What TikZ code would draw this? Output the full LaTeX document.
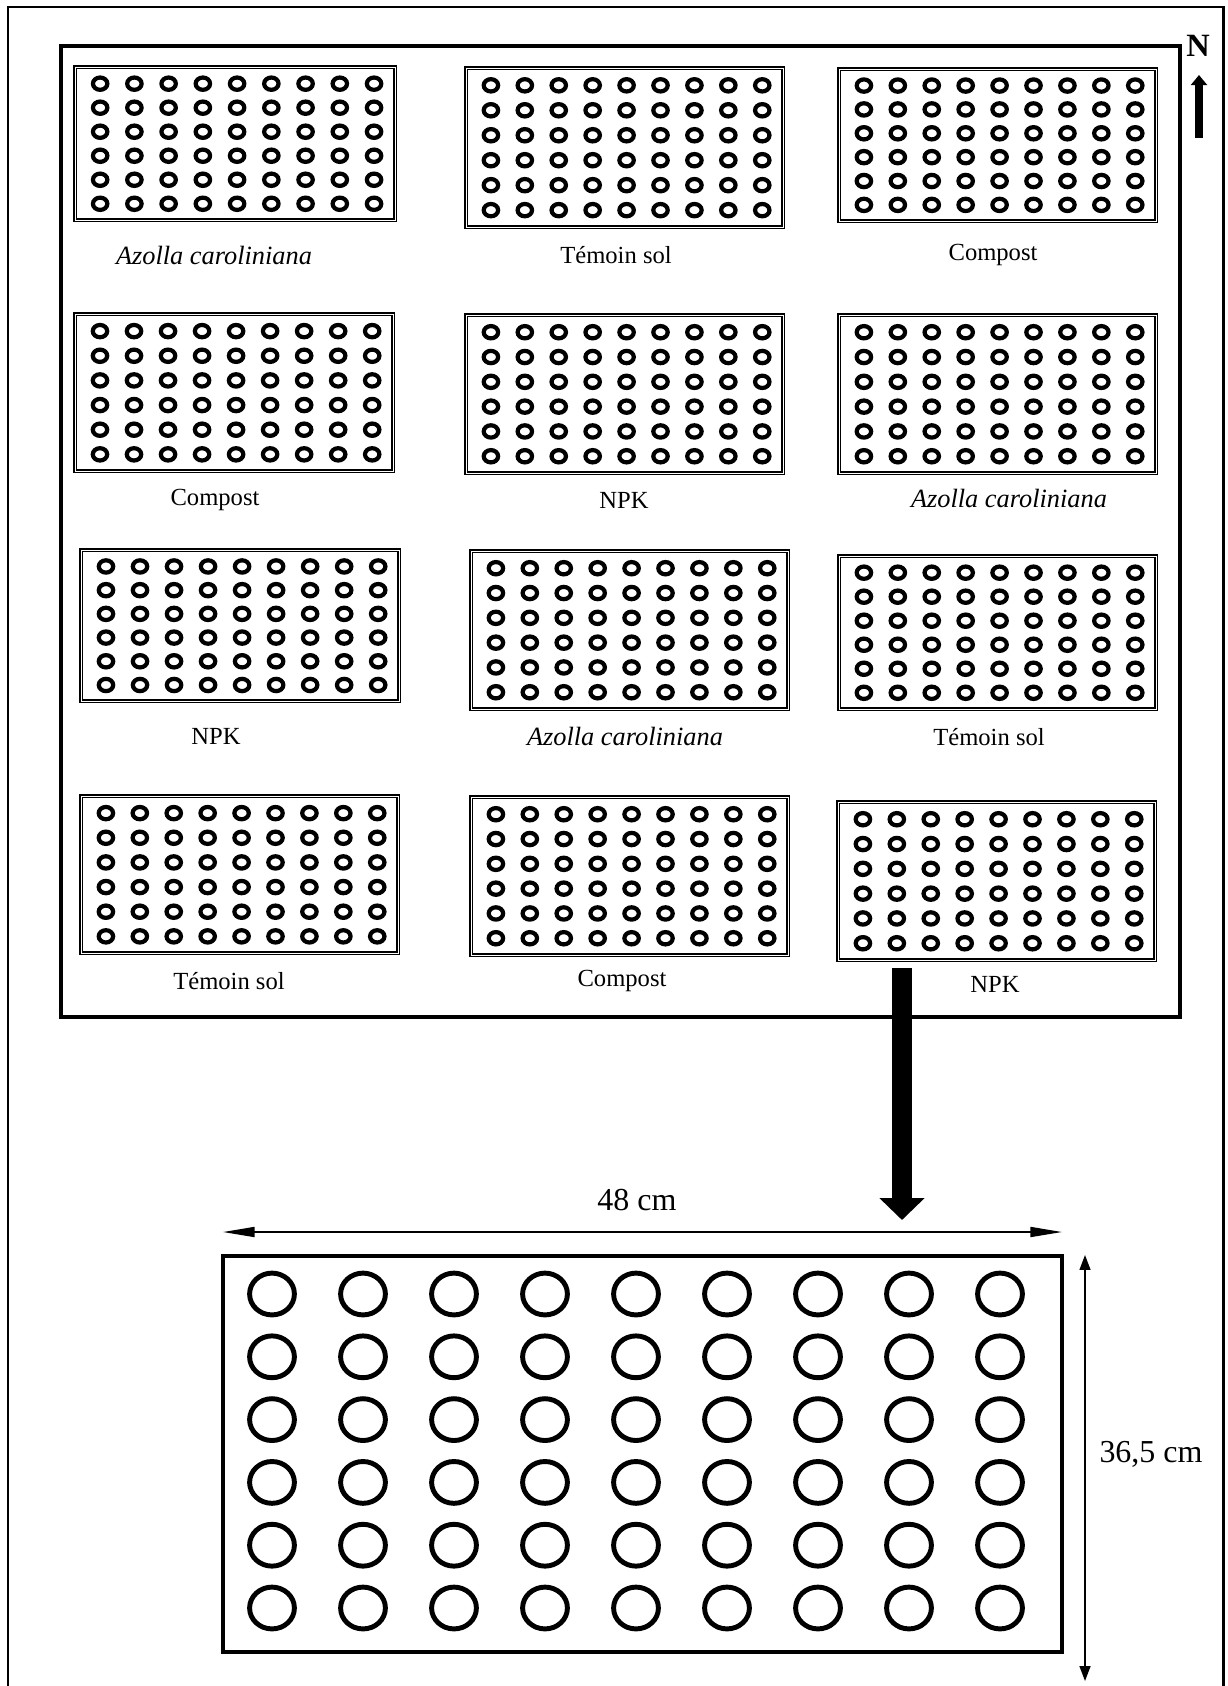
\documentclass[tikz,border=0pt]{standalone}
\usepackage{fontspec}
\setmainfont{Liberation Serif}
\usetikzlibrary{arrows.meta,positioning}

\begin{document}
\begin{tikzpicture}[x=0.02cm,y=-0.02cm,
  frame/.style={line width=1.7pt},
  field/.style={line width=2.8pt},
  plotbox/.style={line width=0.75pt,double,double distance=0.4pt},
  hole/.style={line width=2.4pt},
  bighole/.style={line width=2.8pt},
  detailbox/.style={line width=1.9pt},
  lab/.style={font=\fontsize{14}{16}\selectfont},
  itlab/.style={font=\fontsize{15}{17}\selectfont\itshape},
  dimlab/.style={font=\fontsize{18.2}{21}\selectfont},
  hdim/.style={{Triangle[length=18pt,width=5.7pt]}-{Triangle[length=18pt,width=5.7pt]},line width=0.95pt},
  vdim/.style={{Triangle[length=8.5pt,width=6.2pt]}-{Triangle[length=8.5pt,width=6.2pt]},line width=0.95pt},
  bigarrow/.style={-{Triangle[length=12.5pt,width=25pt]},line width=11.3pt},
  narrow/.style={-{Triangle[length=5.7pt,width=9pt]},line width=4.2pt}]
  \useasboundingbox (0,0) rectangle (1227,1686);
  \draw[frame] (8,1700) -- (8,7) -- (1223,7) -- (1223,1700);
  \draw[field] (61,46) coordinate (fieldnw) rectangle (1180,1017) coordinate (fieldse);
  \node[font=\bfseries\fontsize{18.5}{21}\selectfont] (nlab) at (1198,46) {N};
  \coordinate (nfoot) at (1199,138);
  \coordinate (ntip) at (1199,75);
  \draw[narrow] (nfoot) -- (ntip);

  \foreach \n/\xa/\ya/\xb/\yb in {p11/75/67/395/220, p12/466/68/783/227, p13/839/69/1156/221,
      p21/75/314/393/471, p22/466/315/783/473, p23/839/315/1156/473,
      p31/81/550/399/701, p32/471/551/788/709, p33/839/556/1156/709,
      p41/81/796/398/953, p42/471/797/788/955, p43/838/802/1155/960} {
    \draw[plotbox] (\xa,\ya) rectangle (\xb,\yb);
    \coordinate (\n) at ({(\xa+\xb)/2},{(\ya+\yb)/2});
    \foreach \i in {0,...,8}
      \foreach \j in {0,...,5}
        \draw[hole] ({\xa+(\xb-\xa)*(0.0786+0.107*\i)},{\ya+(\yb-\ya)*(0.109+0.157*\j)})
          ellipse [x radius=4.1pt,y radius=3.5pt];
  }

  \node[itlab] (l11) at (214,255) {Azolla caroliniana};
  \node[lab] (l12) at (616,255) {Témoin sol};
  \node[lab] (l13) at (993,255) {Compost};
  \node[lab] (l21) at (215,500) {Compost};
  \node[lab] (l22) at (624,500) {NPK};
  \node[itlab] (l23) at (1009,498) {Azolla caroliniana};
  \node[lab] (l31) at (216,736) {NPK};
  \node[itlab] (l32) at (625,736) {Azolla caroliniana};
  \node[lab] (l33) at (989,737) {Témoin sol};
  \node[lab] (l41) at (229,981) {Témoin sol};
  \node[lab] (l42) at (622,981) {Compost};
  \node[lab] (l43) at (995,984) {NPK};

  \draw[detailbox] (223,1256) coordinate (detailnw) rectangle (1062,1652) coordinate (detailse);
  \foreach \i in {0,...,8}
    \foreach \j in {0,...,5}
      \draw[bighole] ({272+91*\i},{1294+62.8*\j}) ellipse [x radius=12.75pt,y radius=11.9pt];

  \coordinate (feed) at (902,968);
  \coordinate (into) at (902,1220);
  \draw[bigarrow] (feed) -- (into);

  \coordinate (wleft) at (223,1232);
  \coordinate (wright) at (1062,1232);
  \draw[hdim] (wleft) -- (wright);
  \node[dimlab] (wlab) at (637,1200) {48 cm};

  \coordinate (htop) at (1085,1255);
  \coordinate (hbot) at (1085,1681);
  \draw[vdim] (htop) -- (hbot);
  \node[dimlab] (hlab) at (1151,1454) {36,5 cm};
\end{tikzpicture}
\end{document}
